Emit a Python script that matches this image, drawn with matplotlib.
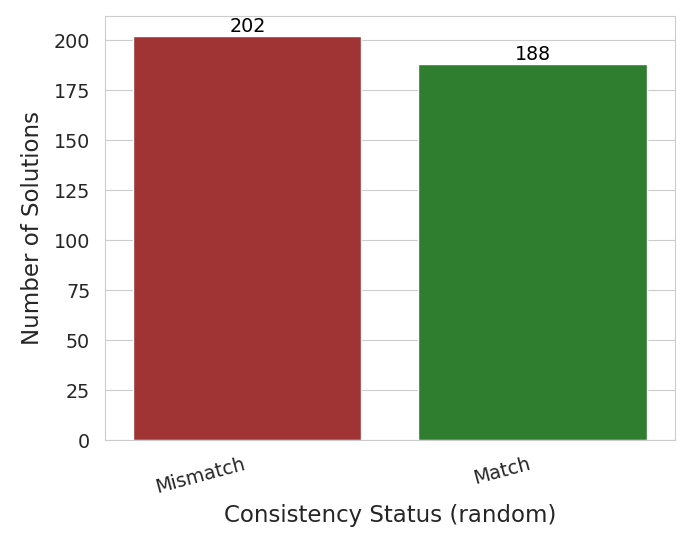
import matplotlib
matplotlib.use("Agg")
import matplotlib.pyplot as plt
import seaborn as sns
import pandas as pd

categories = ["Mismatch", "Match"]
counts = [202, 188]
bar_colors = ["firebrick", "forestgreen"]

sns.set_style("whitegrid")

df = pd.DataFrame({"status": categories, "count": counts})

fig = plt.figure(figsize=(6.89, 5.42), dpi=100)
ax = fig.add_axes([0.152, 0.188, 0.828, 0.782])
sns.barplot(data=df, x="status", y="count", hue="status", palette=bar_colors,
            legend=False, ax=ax)

for i, v in enumerate(counts):
    ax.text(i, v, str(v), ha="center", va="bottom", fontsize=13.8, color="black")

ax.set_xlabel("Consistency Status (random)", fontsize=16.5, labelpad=5)
ax.set_ylabel("Number of Solutions", fontsize=16.5, labelpad=7)
ax.tick_params(axis="y", labelsize=13.8, pad=7)
ax.tick_params(axis="x", labelsize=13.8, pad=7)
plt.setp(ax.get_xticklabels(), rotation=15, ha="right")

fig.savefig("out.png", dpi=100)
